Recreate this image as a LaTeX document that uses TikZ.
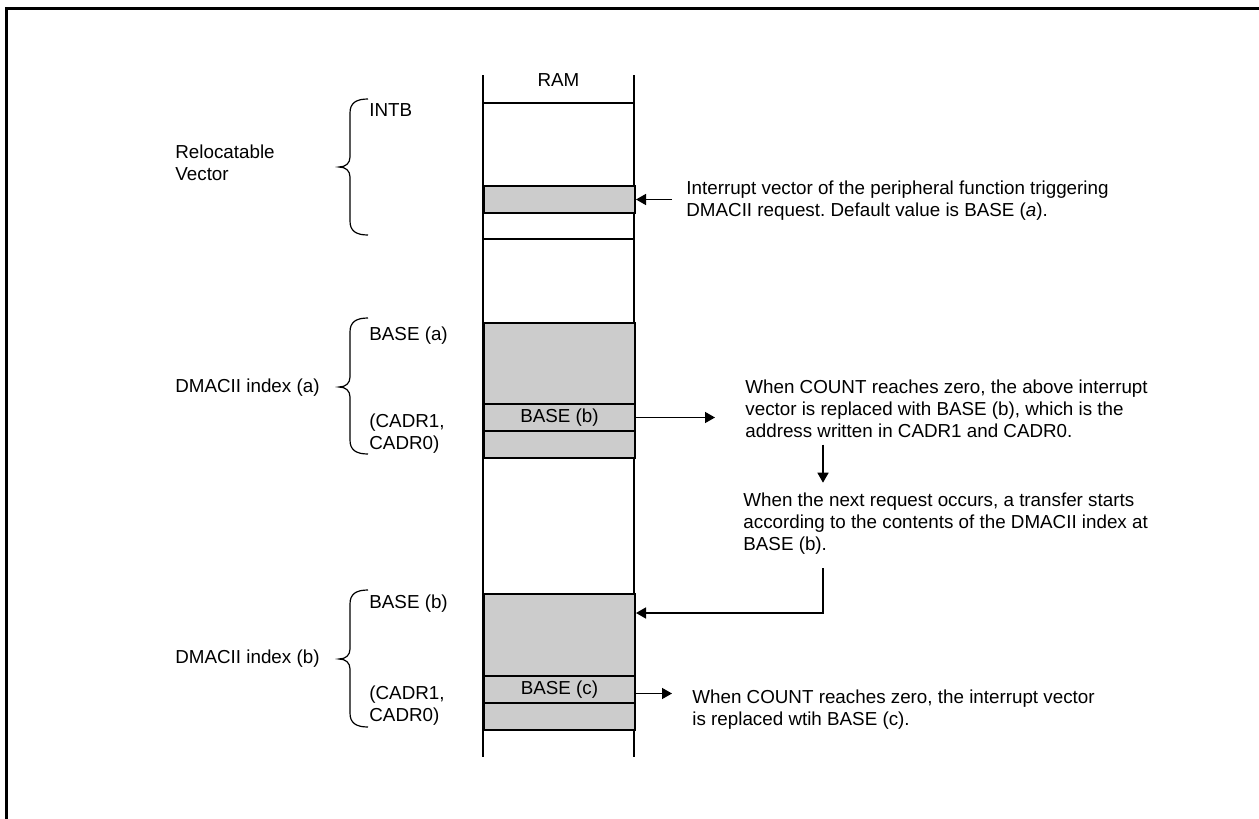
\documentclass[tikz,border=0pt]{standalone}
\usepackage{fontspec}
\setmainfont{Liberation Sans}
\usetikzlibrary{arrows.meta}
\definecolor{ramgray}{RGB}{204,204,204}
\frenchspacing
\newcommand{\ramBrace}[3]{%
  \draw[bracepath] (368,#1) .. controls (356,#1) and (350,{#1+4}) .. (350,{#1+14})
    -- (350,{#2-10}) .. controls (350,{#2-4}) and (346,#2) .. (339,#2)
    .. controls (346,#2) and (350,{#2+4}) .. (350,{#2+10})
    -- (350,{#3-14}) .. controls (350,{#3-4}) and (356,#3) .. (368,#3);}

\begin{document}
\begin{tikzpicture}[x=0.5pt,y=-0.5pt,font=\fontsize{9.4}{11}\selectfont,
  cell/.style={draw,fill=ramgray,line width=1pt,minimum width=75.5pt,inner sep=0pt,anchor=north west},
  lbl/.style={anchor=base west,inner sep=0pt},
  note/.style={anchor=north west,inner sep=0pt,align=left},
  arr/.style={-{Triangle[length=5pt,width=5.5pt]},line width=0.75pt},
  bracepath/.style={line width=0.6pt}]
\useasboundingbox (0,0) rectangle (1259,819);
\draw[line width=1.5pt] (6.5,819) -- (6.5,8) -- (1259,8);

\draw[line width=1pt] (483,75) -- (483,757);
\draw[line width=1pt] (634,75) -- (634,757);
\draw[line width=1pt] (483,103) -- (634,103);
\draw[line width=1pt] (483,239) -- (634,239);
\node[anchor=base,inner sep=0pt] (ram) at (558.5,86) {RAM};

\node[cell,minimum height=13.5pt] (vec) at (483,185) {};
\node[cell,minimum height=40.5pt] (idxa) at (483,322) {};
\node[cell,minimum height=13.5pt] (baseb) at (483,403) {BASE (b)};
\node[cell,minimum height=13.5pt] (cadra) at (483,430) {};
\node[cell,minimum height=41pt] (idxb) at (483,593) {};
\node[cell,minimum height=13.5pt] (basec) at (483,675) {BASE (c)};
\node[cell,minimum height=13.5pt] (cadrb) at (483,702) {};

\ramBrace{99}{167}{235}
\ramBrace{318}{387}{454}
\ramBrace{590}{659}{727}

\node[note] (reloc) at (175,144.7) {Relocatable\\Vector};
\node[lbl] (intb) at (369,116.7) {INTB};
\node[lbl] (idxalbl) at (175,392.3) {DMACII index (a)};
\node[lbl] (basealbl) at (369,340) {BASE (a)};
\node[note] (cadralbl) at (369,413.7) {(CADR1,\\CADR0)};
\node[lbl] (idxblbl) at (175,663) {DMACII index (b)};
\node[lbl] (baseblbl) at (369,608) {BASE (b)};
\node[note] (cadrblbl) at (369,685.7) {(CADR1,\\CADR0)};

\node[note] (vecnote) at (686,180) {Interrupt vector of the peripheral function triggering\\DMACII request. Default value is BASE (\textit{a}).};
\node[note] (note1) at (745,379) {When COUNT reaches zero, the above interrupt\\vector is replaced with BASE (b), which is the\\address written in CADR1 and CADR0.};
\node[note] (note2) at (743,492.7) {When the next request occurs, a transfer starts\\according to the contents of the DMACII index at\\BASE (b).};
\node[note] (note3) at (692,689.4) {When COUNT reaches zero, the interrupt vector\\is replaced wtih BASE (c).};

\coordinate (arrx) at (823,0);
\coordinate (c2) at ([yshift=-10pt]idxb.north east);
\coordinate (c3) at ([yshift=-2pt]basec.east);
\draw[arr,shorten <=7pt] (vecnote.west |- vec.east) -- (vec.east);
\draw[arr,shorten >=15pt] (baseb.east) -- (note1.west |- baseb.east);
\draw[arr,shorten <=3.5pt,shorten >=5pt] (note1.south -| arrx) -- (note2.north -| arrx);
\draw[arr,shorten <=6.5pt] (note2.south -| arrx) |- (c2);
\draw[arr,shorten >=10pt] (c3) -- (note3.west |- c3);
\end{tikzpicture}
\end{document}
